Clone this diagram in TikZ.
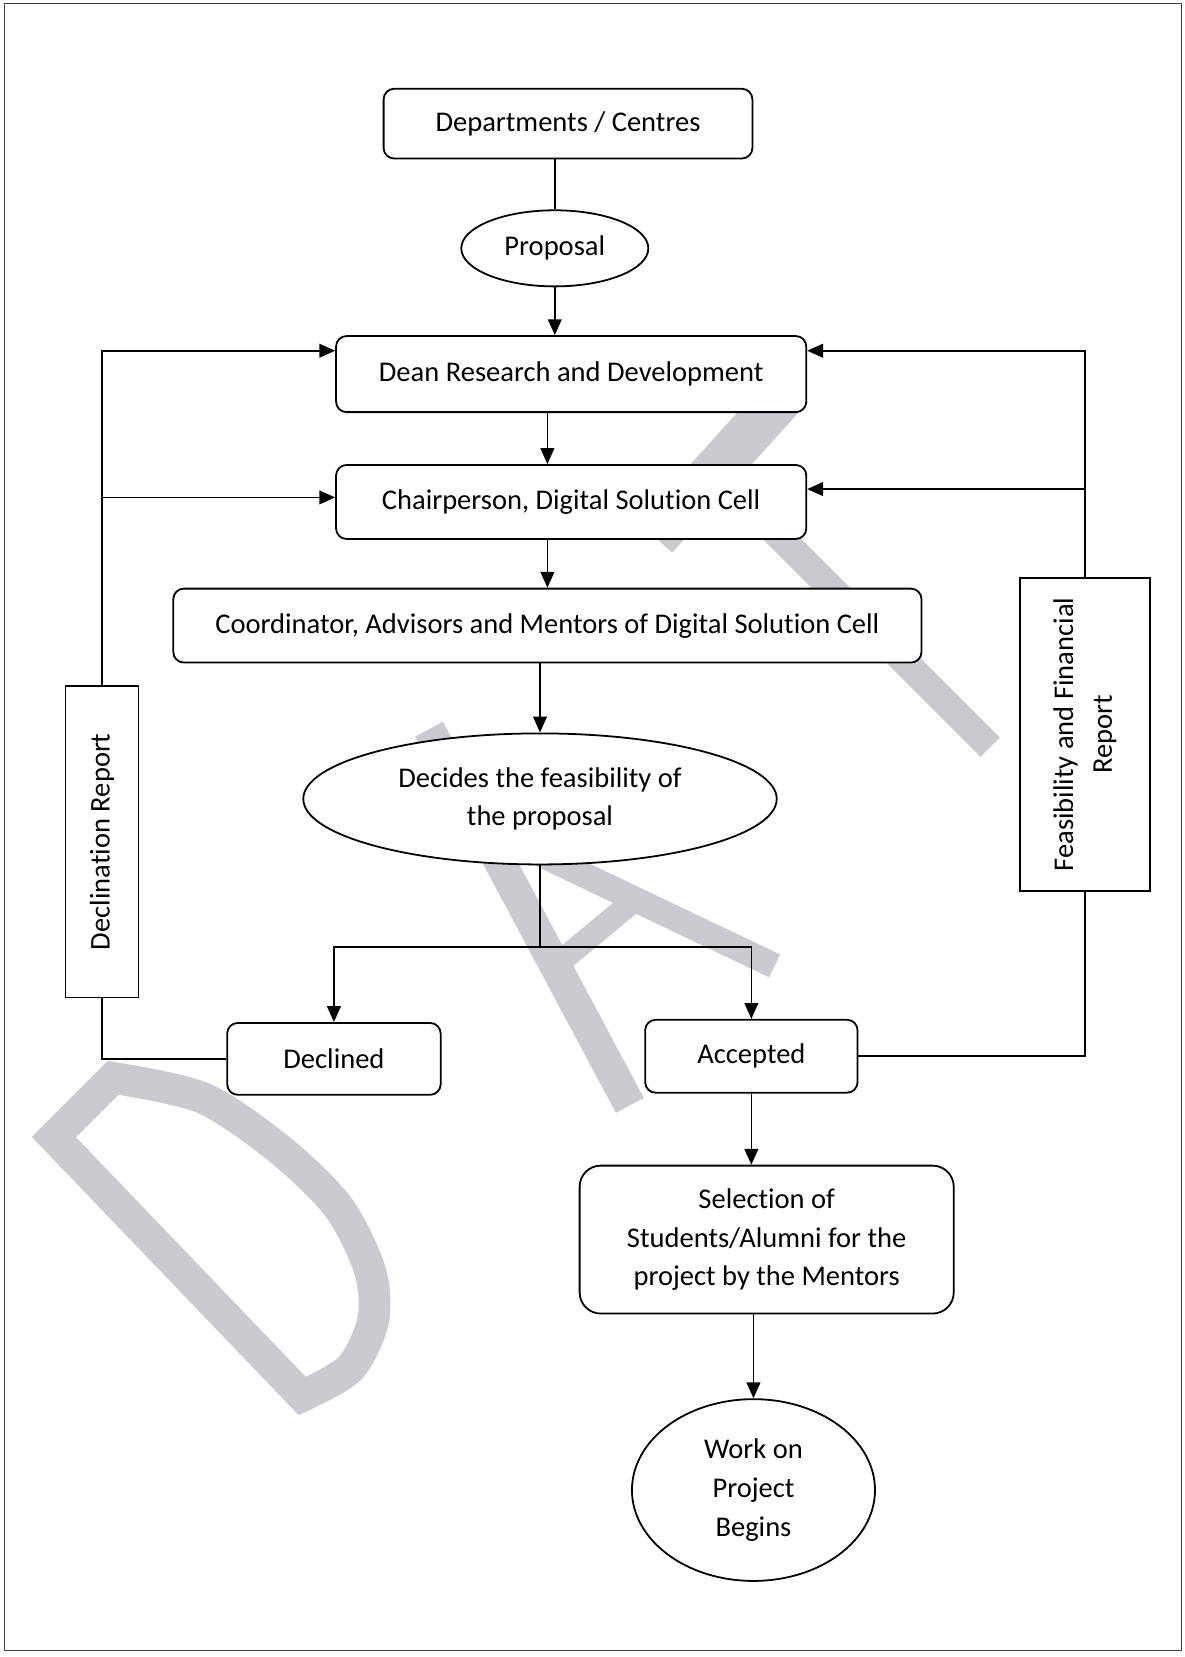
\documentclass[tikz,border=0pt]{standalone}
\usepackage{fontspec}
\setmainfont{Carlito}[Ligatures=NoCommon]
\usetikzlibrary{arrows.meta,shapes.geometric,calc}
\definecolor{wmgray}{RGB}{202,203,209}
\begin{document}
\fontsize{27}{36.5}\selectfont
\begin{tikzpicture}[x=1pt,y=-1pt,
    line width=1.6pt,
    >={Triangle[length=15pt,width=13pt]},
    box/.style={draw, fill=white, rounded corners=10pt, align=center, inner sep=0pt, line width=1.7pt},
    oval/.style={draw, fill=white, ellipse, align=center, inner sep=0pt, line width=1.7pt},
    report/.style={draw, fill=white, inner sep=0pt, line width=1.7pt},
    wm/.style={draw=wmgray, line width=30pt}]
    \useasboundingbox (0,0) rectangle (1121,1568);
    \draw[line width=1.2pt, black!75] (4,3) rectangle (1118,1562);

    % draft watermark behind the boxes
    \draw[wm, line join=miter] (51,1076) -- plot[smooth] coordinates {(107,1020) (192,1039) (265,1088) (320,1142) (350,1202) (353,1250) (331,1295) (286,1321)} -- cycle;
    \draw[wm] (406,690) -- (596,1046);
    \draw[wm, line width=24pt] (450,779) -- (733,914);
    \draw[wm, line width=22pt] (523,916) -- (605,848);
    \fill[wmgray] (707,380) -- (765,380) -- (636,523) -- (604,494) -- cycle;
    \draw[wm, line width=26pt] (690,460) -- (937,707);

    \node[box, minimum width=349pt, minimum height=66pt] (dept) at (537.5,117) {Departments / Centres};
    \node[oval, minimum width=177pt, minimum height=72pt] (prop) at (525,235) {Proposal};
    \node[box, minimum width=445pt, minimum height=72pt] (dean) at (540.5,354) {Dean Research and Development};
    \node[box, minimum width=445pt, minimum height=70pt] (chair) at (540.5,475) {Chairperson, Digital Solution Cell};
    \node[box, minimum width=708pt, minimum height=70pt] (coord) at (518,592) {Coordinator, Advisors and Mentors of Digital Solution Cell};
    \node[oval, minimum width=448pt, minimum height=124pt] (decide) at (511,756) {Decides the feasibility of\\the proposal};
    \node[box, minimum width=202pt, minimum height=68pt] (declined) at (316,1002) {Declined};
    \node[box, minimum width=201pt, minimum height=69pt] (accepted) at (711,999.5) {Accepted};
    \node[box, rounded corners=20pt, minimum width=354pt, minimum height=140pt] (select) at (725.5,1173) {Selection of\\Students/Alumni for the\\project by the Mentors};
    \node[oval, minimum width=230pt, minimum height=172pt] (work) at (713,1410) {Work on\\Project\\Begins};
    \node[report, minimum width=69pt, minimum height=295pt] (declrep) at (96.5,796.5) {\rotatebox{90}{Declination Report}};
    \node[report, minimum width=123pt, minimum height=296pt] (feasrep) at (1026.5,695) {\rotatebox{90}{\begin{tabular}{@{}c@{}}Feasibility and Financial\\Report\end{tabular}}};

    \coordinate (deanL) at ($(dean.north west)!0.2!(dean.south west)$);
    \coordinate (chairL) at ($(chair.north west)!0.44!(chair.south west)$);
    \coordinate (deanR) at ($(dean.north east)!0.2!(dean.south east)$);
    \coordinate (chairR) at ($(chair.north east)!0.33!(chair.south east)$);

    \draw (dept.south -| prop.north) -- (prop.north);
    \draw[->] (prop.south) -- (prop.south |- dean.north);
    \draw[->] (dean.south -| coord.north) -- (chair.north -| coord.north);
    \draw[->] (chair.south -| coord.north) -- (coord.north);
    \draw[->] (coord.south -| decide.north) -- (decide.north);
    \draw (decide.south) -- ++(0,77) coordinate (split);
    \draw[->] (split) -| (declined.north);
    \draw[->] (split) -| (accepted.north);
    \draw (declined.west) -| (declrep.south);
    \draw[->] (declrep.north) |- (deanL);
    \draw[->] (declrep.north |- chairL) -- (chairL);
    \draw (accepted.east) -| (feasrep.south);
    \draw[->] (feasrep.north) |- (deanR);
    \draw[->] (feasrep.north |- chairR) -- (chairR);
    \draw[->] (accepted.south) -- (accepted.south |- select.north);
    \draw[->] (select.south -| work.north) -- (work.north);
\end{tikzpicture}
\end{document}
